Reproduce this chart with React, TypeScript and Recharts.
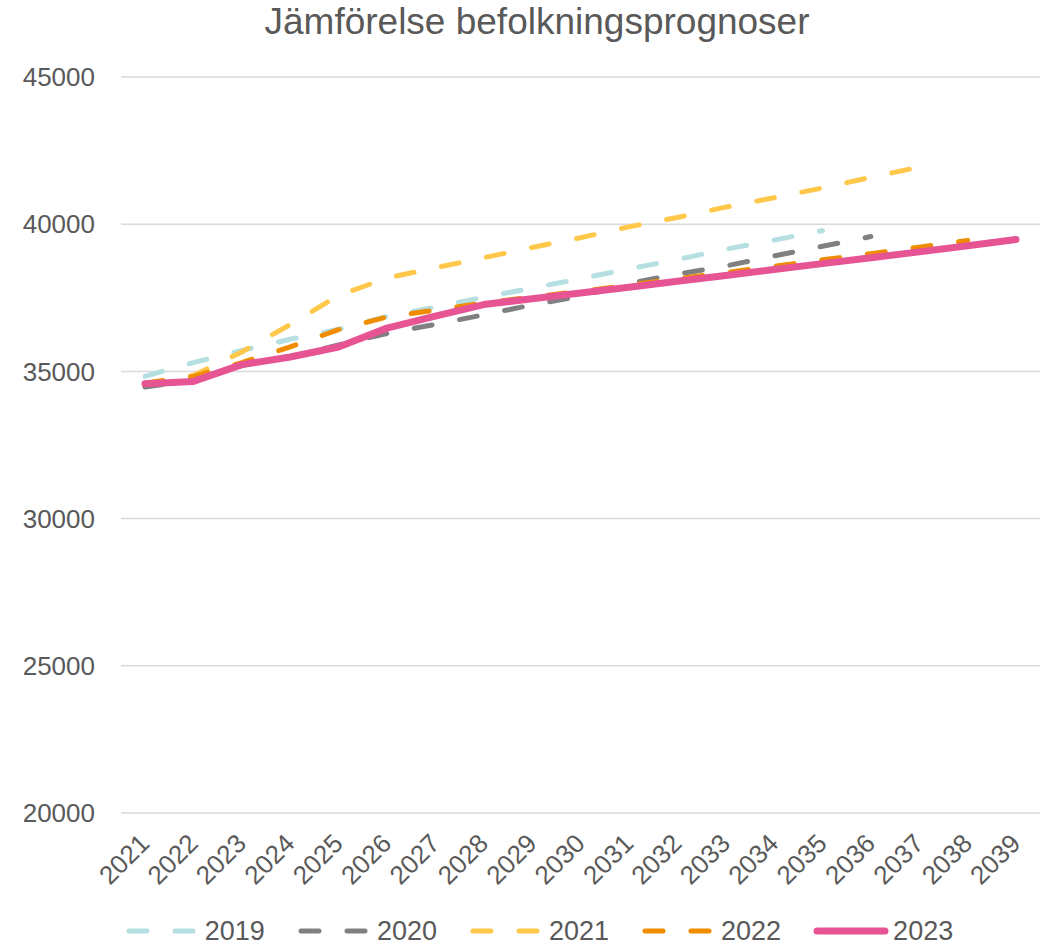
import React from 'react';
import { LineChart, Line, XAxis, YAxis, CartesianGrid, Legend } from 'recharts';

const years = ['2021', '2022', '2023', '2024', '2025', '2026', '2027', '2028', '2029', '2030',
  '2031', '2032', '2033', '2034', '2035', '2036', '2037', '2038', '2039'];

// prognoses by year they were made (null = outside forecast range)
const prog2019 = [34830, 35300, 35710, 36090, 36430, 36870, 37180, 37520, 37830, 38150, 38480, 38800, 39150, 39460, 39780];
const prog2020 = [34470, 34700, 35200, 35500, 35900, 36290, 36600, 36920, 37260, 37550, 37990, 38300, 38580, 38920, 39250, 39580];
const prog2021 = [34600, 34860, 35660, 36590, 37580, 38170, 38520, 38860, 39210, 39540, 39910, 40230, 40580, 40900, 41230, 41590, 41940];
const prog2022 = [34600, 34830, 35300, 35830, 36420, 36850, 37080, 37330, 37520, 37720, 37930, 38150, 38360, 38570, 38790, 39000, 39220, 39450];
const prog2023 = [34580, 34660, 35230, 35490, 35830, 36470, 36880, 37270, 37470, 37660, 37860, 38060, 38260, 38460, 38660, 38860, 39060, 39270, 39480];

const yTicks = [20000, 25000, 30000, 35000, 40000, 45000];

const series = [
  { key: '2019', values: prog2019, color: '#B5DFE0', dashed: true },
  { key: '2020', values: prog2020, color: '#808080', dashed: true },
  { key: '2021', values: prog2021, color: '#FFC84A', dashed: true },
  { key: '2022', values: prog2022, color: '#F08C00', dashed: true },
  { key: '2023', values: prog2023, color: '#E75494', dashed: false },
];

const data = years.map((year, i) => {
  const row: any = { year };
  series.forEach(s => {
    row[s.key] = i < s.values.length ? s.values[i] : null;
  });
  return row;
});

const textColor = '#595959';
const font = '"Liberation Sans", Arial, sans-serif';

const XTick = (props: any) => {
  const { x, y, payload } = props;
  const ax = x + 6;
  const ay = y + 24;
  return (
    <text
      x={ax}
      y={ay}
      transform={`rotate(-45 ${ax} ${ay})`}
      textAnchor="end"
      fontSize={26}
      fill={textColor}
      fontFamily={font}
    >
      {payload.value}
    </text>
  );
};

const LegendContent = () => (
  <div style={{ display: 'flex', justifyContent: 'center', fontFamily: font, fontSize: 27, lineHeight: '30px', color: textColor, height: 30, alignItems: 'center', paddingLeft: 70 }}>
    {series.map(s => (
      <div key={s.key} style={{ display: 'flex', alignItems: 'center', marginRight: 32 }}>
        <svg width={76} height={14} style={{ marginRight: 4 }}>
          <line
            x1={4}
            y1={7}
            x2={72}
            y2={7}
            stroke={s.color}
            strokeWidth={s.dashed ? 5 : 7}
            strokeLinecap="round"
            strokeDasharray={s.dashed ? '18 28' : undefined}
          />
        </svg>
        <span>{s.key}</span>
      </div>
    ))}
  </div>
);

const App = () => {
  return (
    <div style={{ position: 'absolute', left: 0, top: 0, width: 1051, height: 946, background: '#fff' }}>
      <div
        style={{
          position: 'absolute',
          top: 1,
          left: 0,
          width: 1074,
          textAlign: 'center',
          fontFamily: font,
          fontSize: 37,
          color: textColor,
        }}
      >
        Jämförelse befolkningsprognoser
      </div>
      <LineChart width={1051} height={946} data={data} margin={{ top: 77, right: 11, left: 0, bottom: 0 }}>
        <CartesianGrid vertical={false} stroke="#D9D9D9" strokeWidth={1.5} />
        <XAxis
          dataKey="year"
          axisLine={false}
          tickLine={false}
          interval={0}
          tick={<XTick />}
          height={103}
          padding={{ left: 24, right: 24 }}
        />
        <YAxis
          domain={[20000, 45000]}
          ticks={yTicks}
          axisLine={false}
          tickLine={false}
          width={121}
          tick={{ fontSize: 26, fill: textColor, fontFamily: font }}
          tickMargin={20}
        />
        <Legend verticalAlign="bottom" content={<LegendContent />} wrapperStyle={{ bottom: 0 }} />
        {series.map(s => (
          <Line
            key={s.key}
            type="linear"
            dataKey={s.key}
            stroke={s.color}
            strokeWidth={s.dashed ? 5 : 7}
            strokeLinecap="round"
            strokeLinejoin="round"
            strokeDasharray={s.dashed ? '18 28' : undefined}
            dot={false}
            activeDot={false}
            connectNulls={false}
            isAnimationActive={false}
          />
        ))}
      </LineChart>
    </div>
  );
};

export default App;
